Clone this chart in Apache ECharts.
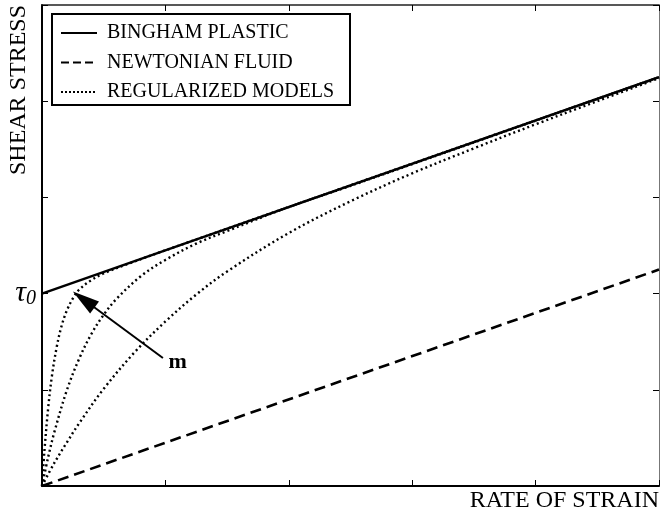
<!DOCTYPE html>
<html>
<head>
<meta charset="utf-8">
<script src="https://cdn.jsdelivr.net/npm/echarts@6/dist/echarts.min.js"></script>
<style>
  html, body { margin: 0; padding: 0; background: #fff; }
  #chart { width: 662px; height: 517px; }
</style>
</head>
<body>
<div id="chart"></div>
<script>
// Axis extents (arbitrary units, 5 tick intervals each way)
const xMax = 5;
const yMax = 5;
const tau0 = 2;

// Constitutive curves: [rate of strain, shear stress]
const binghamPlastic = [[0, 2.0], [5, 4.25]];
const newtonianFluid = [[0, 0], [5, 2.25]];
const regularizedFast = [
  [0, 0], [0.02, 0.37], [0.05, 0.81], [0.08, 1.14], [0.12, 1.45], [0.16, 1.67],
  [0.2, 1.82], [0.25, 1.95], [0.3, 2.04], [0.4, 2.14], [0.5, 2.21], [0.7, 2.31],
  [1.0, 2.45], [5, 4.25]
];
const regularizedMid = [
  [0, 0], [0.05, 0.30], [0.1, 0.56], [0.2, 0.99], [0.3, 1.32], [0.4, 1.58],
  [0.5, 1.78], [0.6, 1.94], [0.8, 2.18], [1.0, 2.35], [1.25, 2.52], [1.5, 2.65],
  [2.0, 2.90], [2.5, 3.12], [5, 4.25]
];
const regularizedSlow = [
  [0, 0], [0.1, 0.24], [0.2, 0.45], [0.3, 0.65], [0.5, 1.01], [0.75, 1.39],
  [1.0, 1.71], [1.25, 1.99], [1.5, 2.23], [2.0, 2.63], [2.5, 2.96], [3.0, 3.25],
  [3.5, 3.51], [4.0, 3.76], [4.5, 4.00], [5, 4.24]
];

// Annotation arrow for increasing regularization parameter m
const arrowTail = [0.98, 1.33];
const arrowHead = [0.338, 1.939];

const legendNames = ['BINGHAM PLASTIC', 'NEWTONIAN FLUID', 'REGULARIZED MODELS'];
const xTitle = 'RATE OF STRAIN';
const yTitle = 'SHEAR STRESS';

const serif = 'Liberation Serif';
const chart = echarts.init(document.getElementById('chart'), null, { renderer: 'canvas' });

function ticks() {
  return { show: true, inside: true, length: 6, lineStyle: { color: '#000', width: 1 } };
}
function frameLine(color, width) {
  return { show: true, onZero: false, lineStyle: { color: color, width: width } };
}

function lineSeries(name, data, type, width, extra) {
  return Object.assign({
    name: name,
    type: 'line',
    data: data,
    showSymbol: false,
    smooth: Array.isArray(type) && type[0] < 4 ? 0.35 : false,
    lineStyle: { color: '#000', width: width, type: type },
    z: 3,
    animation: false,
    silent: true
  }, extra || {});
}

const dotted = [2, 3];
const dashed = [11, 6];

// Legend drawn as a boxed key
const legendRows = [
  { label: legendNames[0], dash: null },
  { label: legendNames[1], dash: [8, 4] },
  { label: legendNames[2], dash: [2, 2] }
];
const legendGraphic = [{
  type: 'rect',
  shape: { x: 52, y: 14, width: 298, height: 91 },
  style: { fill: '#fff', stroke: '#000', lineWidth: 2 },
  z: 10
}];
legendRows.forEach(function (r, i) {
  const y = 33 + i * 29.5;
  legendGraphic.push({
    type: 'line',
    shape: { x1: 61, y1: y, x2: 97, y2: y },
    style: { stroke: '#000', lineWidth: 2, lineDash: r.dash },
    z: 11
  });
  legendGraphic.push({
    type: 'text',
    x: 107, y: y,
    style: { text: r.label, fill: '#000', font: '20px "' + serif + '"', textVerticalAlign: 'middle' },
    z: 11
  });
});

chart.setOption({
  backgroundColor: '#fff',
  animation: false,
  grid: { left: 42, right: 2, top: 5, bottom: 31, containLabel: false },
  xAxis: [{
    type: 'value', min: 0, max: xMax, interval: 1, position: 'bottom',
    axisLine: frameLine('#000', 2),
    axisTick: ticks(),
    axisLabel: { show: false },
    splitLine: { show: false },
    name: xTitle, nameLocation: 'end', nameGap: 0,
    nameTextStyle: { fontFamily: serif, fontSize: 24, color: '#000', align: 'right', verticalAlign: 'top', padding: [3, 0, 0, 0] }
  }, {
    type: 'value', min: 0, max: xMax, interval: 1, position: 'top',
    axisLine: frameLine('#222', 1.5),
    axisTick: ticks(),
    axisLabel: { show: false },
    splitLine: { show: false }
  }],
  yAxis: [{
    type: 'value', min: 0, max: yMax, interval: 1, position: 'left',
    axisLine: frameLine('#000', 2),
    axisTick: ticks(),
    axisLabel: {
      show: true, margin: 6,
      formatter: function (v) { return v === tau0 ? '{t|τ}{s|0}' : ''; },
      rich: {
        t: { fontFamily: serif, fontSize: 30, fontStyle: 'italic', color: '#000' },
        s: { fontFamily: serif, fontSize: 20, fontStyle: 'italic', color: '#000', padding: [10, 0, 0, 0] }
      }
    },
    splitLine: { show: false }
  }, {
    type: 'value', min: 0, max: yMax, interval: 1, position: 'right',
    axisLine: frameLine('#777', 1),
    axisTick: ticks(),
    axisLabel: { show: false },
    splitLine: { show: false }
  }],
  series: [
    lineSeries(legendNames[0], binghamPlastic, 'solid', 2.5, {
      markLine: {
        silent: true,
        animation: false,
        lineStyle: { color: '#000', width: 2, type: 'solid' },
        label: {
          show: true, position: 'start', formatter: 'm',
          fontFamily: serif, fontSize: 22, fontWeight: 'bold', color: '#000',
          distance: 7
        },
        data: [[
          { coord: arrowTail, symbol: 'none' },
          { coord: arrowHead, symbol: 'triangle', symbolSize: [15, 27] }
        ]]
      }
    }),
    lineSeries(legendNames[1], newtonianFluid, dashed, 2.6),
    lineSeries(legendNames[2], regularizedFast, dotted, 2.4),
    lineSeries(legendNames[2] + ' (m mid)', regularizedMid, dotted, 2.4),
    lineSeries(legendNames[2] + ' (m low)', regularizedSlow, dotted, 2.4)
  ],
  graphic: legendGraphic.concat([{
    type: 'text',
    x: 19, y: 5,
    rotation: Math.PI / 2,
    style: { text: yTitle, fill: '#000', font: '24px "' + serif + '"', textAlign: 'right', textVerticalAlign: 'middle' },
    z: 5
  }])
});
</script>
</body>
</html>
